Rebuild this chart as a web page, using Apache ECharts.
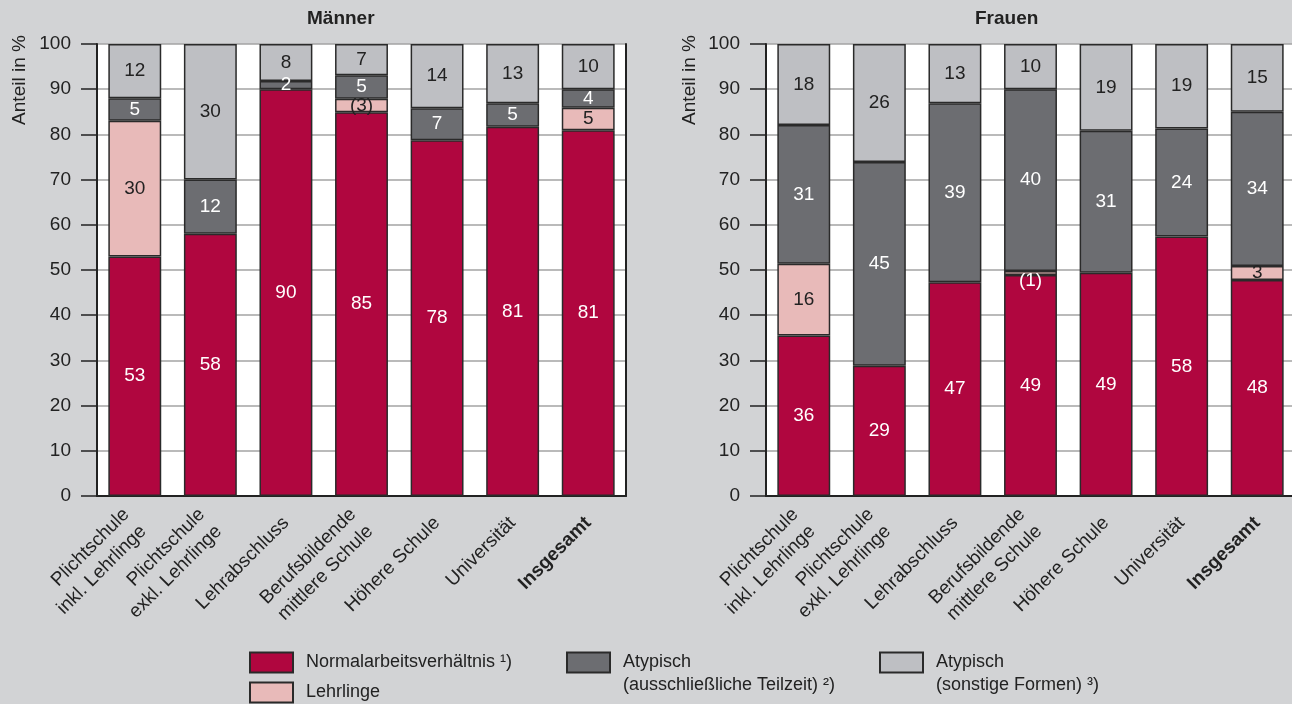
<!DOCTYPE html>
<html>
<head>
<meta charset="utf-8">
<script src="https://cdn.jsdelivr.net/npm/echarts@6/dist/echarts.min.js"></script>
<style>
html, body { margin: 0; padding: 0; background: #d2d3d5; overflow: hidden; }
#chart { width: 1300px; height: 704px; }
</style>
</head>
<body>
<div id="chart"></div>
<script>
var categories = ['Plichtschule\ninkl. Lehrlinge', 'Plichtschule\nexkl. Lehrlinge', 'Lehrabschluss',
    'Berufsbildende\nmittlere Schule', 'Höhere Schule', 'Universität', 'Insgesamt'];
var yTicks = [0, 100, 10];

// Männer
var menNormal    = [53, 58, 90, 84.9, 78.7, 81.7, 80.9];
var menLehrlinge = [30, null, null, 3, null, null, 5];
var menTeilzeit  = [5, 12, 1.8, 5.2, 7.1, 5.2, 4.1];
var menSonstige  = [12, 30, 8.2, 6.9, 14.2, 13.1, 10];
var menNormalLbl = ['53', '58', '90', '85', '78', '81', '81'];
var menLehrLbl   = ['30', '', '', '(3)', '', '', '5'];
var menTeilLbl   = ['5', '12', '2', '5', '7', '5', '4'];
var menSonstLbl  = ['12', '30', '8', '7', '14', '13', '10'];

// Frauen
var womNormal    = [35.5, 28.8, 47.3, 48.9, 49.4, 57.4, 47.8];
var womLehrlinge = [15.9, null, null, 0.9, null, null, 3.1];
var womTeilzeit  = [30.7, 45.1, 39.6, 40.2, 31.4, 23.9, 34.1];
var womSonstige  = [17.9, 26.1, 13.1, 10, 19.2, 18.7, 15];
var womNormalLbl = ['36', '29', '47', '49', '49', '58', '48'];
var womLehrLbl   = ['16', '', '', '(1)', '', '', '3'];
var womTeilLbl   = ['31', '45', '39', '40', '31', '24', '34'];
var womSonstLbl  = ['18', '26', '13', '10', '19', '19', '15'];

var names = ['Normalarbeitsverhältnis \u00b9)', 'Lehrlinge',
    'Atypisch\n(ausschließliche Teilzeit) \u00b2)', 'Atypisch\n(sonstige Formen) \u00b3)'];
var colors = ['#b0063f', '#e8bab9', '#6c6d71', '#bebfc3'];
var lblColors = ['#fff', '#222', '#fff', '#222'];

var FONT = 'Liberation Sans, Arial, sans-serif';
var txt = '#222';

function mkSeries(idx, stack, axis, values, labels) {
    return {
        name: names[idx],
        type: 'bar',
        stack: stack,
        xAxisIndex: axis,
        yAxisIndex: axis * 2,
        barWidth: '70%',
        itemStyle: { color: colors[idx], borderColor: '#2a2a2a', borderWidth: 1.5 },
        label: {
            show: true,
            position: 'inside',
            color: lblColors[idx],
            fontFamily: FONT,
            fontSize: 19,
            formatter: function (p) { return labels[p.dataIndex]; }
        },
        data: values.map(function (v, i) {
            // "(1)" in Frauen sits on a thin Lehrlinge slice, printed white below it
            if (labels[i] === '(1)') {
                return { value: v, label: { color: '#fff', offset: [0, 8] } };
            }
            return v;
        })
    };
}

function xAx(grid) {
    return {
        type: 'category',
        gridIndex: grid,
        data: categories,
        axisLine: { lineStyle: { color: txt, width: 2 } },
        axisTick: { show: false },
        axisLabel: {
            rotate: 45,
            interval: 0,
            margin: 24,
            color: txt,
            fontFamily: FONT,
            fontSize: 19,
            lineHeight: 24,
            formatter: function (v) { return v === 'Insgesamt' ? '{b|' + v + '}' : v; },
            rich: { b: { fontWeight: 'bold', fontFamily: FONT, fontSize: 19, color: txt } }
        }
    };
}

function yAx(grid, main) {
    return {
        type: 'value',
        gridIndex: grid,
        position: main ? 'left' : 'right',
        min: yTicks[0],
        max: yTicks[1],
        interval: yTicks[2],
        axisLine: { show: true, lineStyle: { color: txt, width: 2 } },
        axisTick: { show: main, length: 16, lineStyle: { color: txt, width: 1.5 } },
        axisLabel: { show: main, color: txt, fontFamily: FONT, fontSize: 19, margin: 26 },
        splitLine: { show: main, lineStyle: { color: '#a3a3a3', width: 1.5 } }
    };
}

function legendBox(left, top, gap, items) {
    return {
        left: left,
        top: top,
        orient: 'vertical',
        padding: 0,
        icon: 'rect',
        itemWidth: 43,
        itemHeight: 20,
        itemGap: gap,
        textStyle: { color: txt, fontFamily: FONT, fontSize: 18, lineHeight: 23, padding: [0, 0, 0, 8] },
        // two-line names get an empty first line so "Atypisch" sits level with the swatch
        formatter: function (n) { return n.indexOf('\n') >= 0 ? ' \n' + n : n; },
        data: items
    };
}

var option = {
    backgroundColor: '#d2d3d5',
    animation: false,
    title: [
        { text: 'Männer', left: 307, top: 9, padding: 0, textStyle: { fontFamily: FONT, fontSize: 19, fontWeight: 'bold', color: txt } },
        { text: 'Frauen', left: 975, top: 9, padding: 0, textStyle: { fontFamily: FONT, fontSize: 19, fontWeight: 'bold', color: txt } }
    ],
    grid: [
        { left: 97, top: 44, width: 529, height: 452, show: true, backgroundColor: '#fff', borderWidth: 0 },
        { left: 766, top: 44, width: 529, height: 452, show: true, backgroundColor: '#fff', borderWidth: 0 }
    ],
    xAxis: [xAx(0), xAx(1)],
    yAxis: [yAx(0, true), yAx(0, false), yAx(1, true), yAx(1, false)],
    legend: [
        legendBox(249, 651, 7, [names[0], names[1]]),
        legendBox(566, 628, 10, [names[2]]),
        legendBox(879, 628, 10, [names[3]])
    ],
    graphic: [
        { type: 'text', x: 20, y: 80, rotation: Math.PI / 2,
          style: { text: 'Anteil in %', fill: txt, font: '19px ' + FONT, align: 'center', verticalAlign: 'middle' } },
        { type: 'text', x: 690, y: 80, rotation: Math.PI / 2,
          style: { text: 'Anteil in %', fill: txt, font: '19px ' + FONT, align: 'center', verticalAlign: 'middle' } }
    ],
    series: [
        mkSeries(0, 'm', 0, menNormal, menNormalLbl),
        mkSeries(1, 'm', 0, menLehrlinge, menLehrLbl),
        mkSeries(2, 'm', 0, menTeilzeit, menTeilLbl),
        mkSeries(3, 'm', 0, menSonstige, menSonstLbl),
        mkSeries(0, 'f', 1, womNormal, womNormalLbl),
        mkSeries(1, 'f', 1, womLehrlinge, womLehrLbl),
        mkSeries(2, 'f', 1, womTeilzeit, womTeilLbl),
        mkSeries(3, 'f', 1, womSonstige, womSonstLbl)
    ]
};

var myChart = echarts.init(document.getElementById('chart'));
myChart.setOption(option);
</script>
</body>
</html>
